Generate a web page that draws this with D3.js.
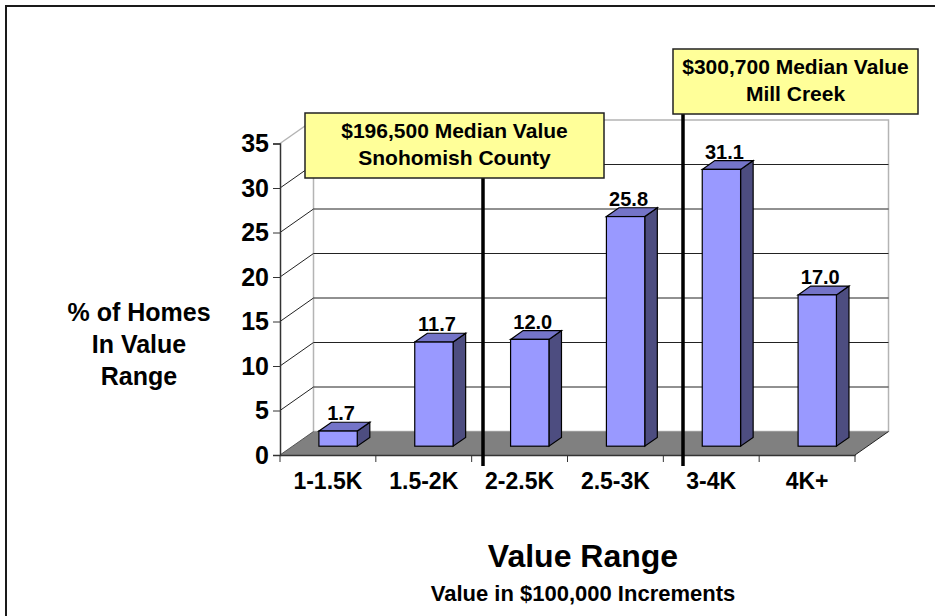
<!DOCTYPE html>
<html>
<head>
<meta charset="utf-8">
<script src="https://cdn.jsdelivr.net/npm/d3@7"></script>
<style>
  body { margin: 0; background: #fff; }
  svg text { font-family: Arial, "Liberation Sans", sans-serif; font-weight: bold; fill: #000; }
</style>
</head>
<body>
<div class="graph"></div>
<script>
const width = 935;
const height = 616;

// data
const categories = ['1-1.5K', '1.5-2K', '2-2.5K', '2.5-3K', '3-4K', '4K+'];
const values = [1.7, 11.7, 12.0, 25.8, 31.1, 17.0];
const yTicks = [0, 5, 10, 15, 20, 25, 30, 35];
const boxLines1 = ['$196,500 Median Value', 'Snohomish County'];
const boxLines2 = ['$300,700 Median Value', 'Mill Creek'];
const yTitle = ['% of Homes', 'In Value', 'Range'];

// 3d frame
const plot = {left: 280, right: 855, bottom: 455};
const depth = {dx: 33.5, dy: -23.5};
const barDepth = {from: 0.375, to: 0.75};

const svg = d3.select('.graph').append('svg')
  .attr('width', width)
  .attr('height', height);

// outer frame
svg.append('rect')
  .attr('x', 6).attr('y', 6)
  .attr('width', 960).attr('height', 640)
  .attr('fill', 'none')
  .attr('stroke', '#1a1a1a')
  .attr('stroke-width', 2);

const x = d3.scaleBand()
  .domain(categories)
  .range([plot.left, plot.right]);

const y = d3.scaleLinear()
  .domain([0, 35])
  .range([plot.bottom, plot.bottom - 311.5]);

// project a point at depth d (0 = front, 1 = back)
const px = (sx, d) => sx + depth.dx * d;
const py = (sy, d) => sy + depth.dy * d;

const line = d3.line();

// back wall
const wallTop = py(y(35), 1);
const wallBottom = py(y(0), 1);
svg.append('rect')
  .attr('x', px(plot.left, 1)).attr('y', wallTop)
  .attr('width', plot.right - plot.left)
  .attr('height', wallBottom - wallTop)
  .attr('fill', '#fff')
  .attr('stroke', '#b4b4b4')
  .attr('stroke-width', 1.5);

// floor
svg.append('path')
  .attr('d', line([
    [plot.left, y(0)], [plot.right, y(0)],
    [px(plot.right, 1), py(y(0), 1)], [px(plot.left, 1), py(y(0), 1)]
  ]) + 'Z')
  .attr('fill', '#808080')
  .attr('stroke', 'none');
svg.append('path')
  .attr('d', line([[plot.right, y(0)], [px(plot.right, 1), py(y(0), 1)]]))
  .attr('stroke', '#222').attr('fill', 'none');
svg.append('path')
  .attr('d', line([[plot.left, y(0)], [px(plot.left, 1), py(y(0), 1)]]))
  .attr('stroke', '#555').attr('fill', 'none');

// gridlines on back wall + depth lines on left
yTicks.filter(t => t > 0 && t < 35).forEach(t => {
  svg.append('path')
    .attr('d', line([[px(plot.left, 1), py(y(t), 1)], [px(plot.right, 1), py(y(t), 1)]]))
    .attr('stroke', '#222').attr('stroke-width', 1).attr('fill', 'none');
  svg.append('path')
    .attr('d', line([[plot.left, y(t)], [px(plot.left, 1), py(y(t), 1)]]))
    .attr('stroke', '#222').attr('stroke-width', 1).attr('fill', 'none');
});
svg.append('path')
  .attr('d', line([[plot.left, y(35)], [px(plot.left, 1), py(y(35), 1)]]))
  .attr('stroke', '#b4b4b4').attr('stroke-width', 1.5).attr('fill', 'none');

// y axis
const yAxis = d3.axisLeft(y)
  .tickValues(yTicks)
  .tickSize(7)
  .tickPadding(4);
const yg = svg.append('g')
  .attr('transform', `translate(${plot.left},0)`)
  .call(yAxis);
yg.select('.domain').attr('stroke', '#333').attr('stroke-width', 1.5);
yg.selectAll('.tick line').attr('stroke', '#333');
yg.selectAll('.tick text')
  .attr('font-size', 25)
  .attr('font-family', 'Arial, "Liberation Sans", sans-serif')
  .attr('font-weight', 'bold')
  .attr('fill', '#000');

// x axis
const xAxis = d3.axisBottom(x)
  .tickSize(0)
  .tickPadding(18);
const xg = svg.append('g')
  .attr('transform', `translate(0,${plot.bottom})`)
  .call(xAxis);
xg.select('.domain').attr('stroke', '#333').attr('stroke-width', 1.5);
xg.selectAll('.tick text')
  .attr('font-size', 23)
  .attr('font-family', 'Arial, "Liberation Sans", sans-serif')
  .attr('font-weight', 'bold')
  .attr('fill', '#000');
// boundary ticks
xg.selectAll('.bound')
  .data(d3.range(categories.length + 1))
  .join('line')
  .attr('class', 'bound')
  .attr('x1', i => plot.left + i * x.step())
  .attr('x2', i => plot.left + i * x.step())
  .attr('y1', 0).attr('y2', 7)
  .attr('stroke', '#333');

// bars
const bw = x.bandwidth() * 0.40;
const boff = x.bandwidth() * 0.275;
const frontCol = '#9999ff', topCol = '#7474c8', sideCol = '#4d4d80';

const bars = svg.append('g');
categories.forEach((c, i) => {
  const v = values[i];
  const x0 = px(x(c) + boff, barDepth.from);
  const x1 = x0 + bw;
  const yb = py(y(0), barDepth.from);
  const yt = py(y(v), barDepth.from);
  const ddx = depth.dx * (barDepth.to - barDepth.from);
  const ddy = depth.dy * (barDepth.to - barDepth.from);

  bars.append('path')
    .attr('d', line([[x1, yt], [x1 + ddx, yt + ddy], [x1 + ddx, yb + ddy], [x1, yb]]) + 'Z')
    .attr('fill', sideCol).attr('stroke', '#000').attr('stroke-width', 1.2);
  bars.append('path')
    .attr('d', line([[x0, yt], [x0 + ddx, yt + ddy], [x1 + ddx, yt + ddy], [x1, yt]]) + 'Z')
    .attr('fill', topCol).attr('stroke', '#000').attr('stroke-width', 1.2);
  bars.append('rect')
    .attr('x', x0).attr('y', yt)
    .attr('width', bw).attr('height', yb - yt)
    .attr('fill', frontCol).attr('stroke', '#000').attr('stroke-width', 1.2);

  bars.append('text')
    .attr('x', x0 + bw / 2 + 3)
    .attr('y', yt + ddy - 2)
    .attr('text-anchor', 'middle')
    .attr('font-size', 20)
    .text(v.toFixed(1));
});

// median annotations
const drawNote = (lines, bx, by, bwid, lineX) => {
  svg.append('line')
    .attr('x1', lineX).attr('x2', lineX)
    .attr('y1', by + 64).attr('y2', 466)
    .attr('stroke', '#000').attr('stroke-width', 3.5);
  svg.append('rect')
    .attr('x', bx).attr('y', by)
    .attr('width', bwid).attr('height', 65)
    .attr('fill', '#ffff99')
    .attr('stroke', '#222').attr('stroke-width', 1.5);
  lines.forEach((t, k) => {
    svg.append('text')
      .attr('x', bx + bwid / 2)
      .attr('y', by + 25 + k * 26.5)
      .attr('text-anchor', 'middle')
      .attr('font-size', 21)
      .text(t);
  });
};
drawNote(boxLines1, 305, 113, 299, 483);
drawNote(boxLines2, 673, 49, 245, 683);

// axis titles
svg.append('text')
  .attr('x', 139)
  .attr('text-anchor', 'middle')
  .attr('font-size', 25)
  .selectAll('tspan')
  .data(yTitle)
  .join('tspan')
  .attr('x', 139)
  .attr('y', (d, i) => 321 + i * 32)
  .text(d => d);

svg.append('text')
  .attr('x', 583).attr('y', 567)
  .attr('text-anchor', 'middle')
  .attr('font-size', 32)
  .text('Value Range');

svg.append('text')
  .attr('x', 583).attr('y', 601)
  .attr('text-anchor', 'middle')
  .attr('font-size', 22)
  .text('Value in $100,000 Increments');
</script>
</body>
</html>
